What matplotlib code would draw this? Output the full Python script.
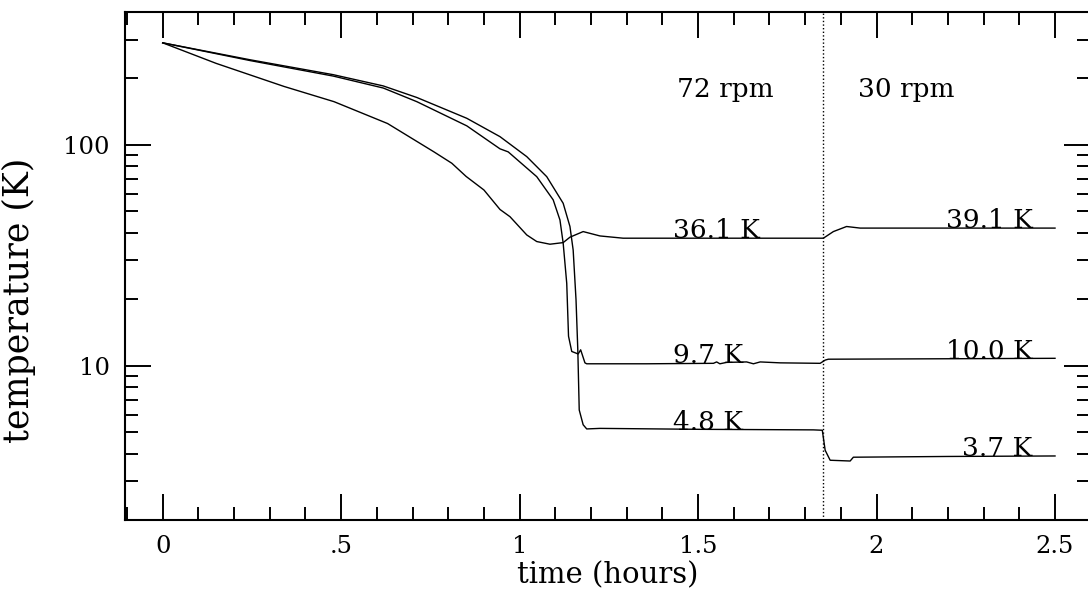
import matplotlib
matplotlib.use("Agg")
import matplotlib.pyplot as plt
from matplotlib.ticker import FixedLocator, MultipleLocator, LogLocator, NullFormatter, FixedFormatter

plt.rcParams['font.family'] = ['DejaVu Serif']

# ---- data ----
# curve ending at 36.1 K / 39.1 K
time_a = [0.0, 0.15, 0.34, 0.48, 0.63, 0.76, 0.81, 0.85, 0.90, 0.945, 0.973, 1.02,
          1.048, 1.085, 1.122, 1.141, 1.178, 1.225, 1.29, 1.45, 1.6, 1.75, 1.848,
          1.851, 1.879, 1.916, 1.954, 2.2, 2.5]
temp_a = [290, 234, 184, 157, 125, 93, 82.6, 72, 62.5, 51, 47.3, 39.1,
          36.5, 35.5, 36.1, 38.2, 40.5, 38.7, 37.8, 37.8, 37.8, 37.8, 37.8,
          37.8, 40.5, 42.7, 42.0, 42.0, 42.0]

# curve ending at 9.7 K / 10.0 K
time_b = [0.0, 0.245, 0.478, 0.618, 0.712, 0.852, 0.945, 0.968, 1.048, 1.094, 1.113,
          1.122, 1.132, 1.137, 1.146, 1.164, 1.171, 1.183, 1.188, 1.356, 1.543,
          1.552, 1.561, 1.580, 1.636, 1.655, 1.674, 1.730, 1.842, 1.856, 1.865,
          2.2, 2.5]
temp_b = [290, 241, 205, 181, 157, 122, 96, 93, 71.8, 56.4, 45.7,
          35.9, 23.6, 13.6, 11.6, 11.3, 11.8, 10.3, 10.2, 10.2, 10.25,
          10.4, 10.2, 10.35, 10.4, 10.2, 10.4, 10.3, 10.25, 10.6, 10.7,
          10.75, 10.8]

# curve ending at 4.8 K / 3.7 K
time_c = [0.0, 0.245, 0.478, 0.618, 0.712, 0.852, 0.945, 1.020, 1.076, 1.122, 1.141,
          1.150, 1.158, 1.163, 1.167, 1.178, 1.188, 1.225, 1.5, 1.823, 1.848,
          1.856, 1.870, 1.926, 1.935, 2.2, 2.5]
temp_c = [290, 243, 208, 185, 164, 132, 109, 88.5, 71.8, 54.4, 42.7,
          33.4, 19.9, 11.8, 6.3, 5.4, 5.17, 5.2, 5.15, 5.12, 5.1,
          4.14, 3.73, 3.70, 3.85, 3.88, 3.9]

speed_change_time = 1.85
x_ticks = [0, 0.5, 1, 1.5, 2, 2.5]
x_ticklabels = ['0', '.5', '1', '1.5', '2', '2.5']
y_ticks = [10, 100]
y_ticklabels = ['10', '100']

rpm_labels = ['72 rpm', '30 rpm']
rpm_x = [1.441, 1.948]
rpm_y = 165

left_labels = ['36.1 K', '9.7 K', '4.8 K']
left_label_y = [37.9, 10.3, 5.1]
right_labels = ['39.1 K', '10.0 K', '3.7 K']
right_label_y = [42.0, 10.75, 3.9]

# ---- figure ----
W, H = 1088, 592
fig = plt.figure(figsize=(W / 100, H / 100), dpi=100)
L, R, T, B = 125, 1090, 12, 520
ax = fig.add_axes([L / W, 1 - B / H, (R - L) / W, (B - T) / H])

lw = 1.0
ax.plot(time_a, temp_a, color='black', lw=lw)
ax.plot(time_b, temp_b, color='black', lw=lw)
ax.plot(time_c, temp_c, color='black', lw=lw)
ax.axvline(speed_change_time, color='black', lw=1.0, ls=(0, (1, 1.6)))

ax.set_yscale('log')
ax.set_xlim(-0.1056, 2.598)
ax.set_ylim(2, 400)

ax.xaxis.set_major_locator(FixedLocator(x_ticks))
ax.xaxis.set_major_formatter(FixedFormatter(x_ticklabels))
ax.xaxis.set_minor_locator(MultipleLocator(0.1))
ax.yaxis.set_major_locator(FixedLocator(y_ticks))
ax.yaxis.set_major_formatter(FixedFormatter(y_ticklabels))
ax.yaxis.set_minor_locator(LogLocator(base=10, subs=[2, 3, 4, 5, 6, 7, 8, 9]))
ax.yaxis.set_minor_formatter(NullFormatter())

for s in ax.spines.values():
    s.set_linewidth(1.5)
ax.tick_params(which='both', direction='in', top=True, right=True, width=1.4, colors='black')
ax.tick_params(which='major', length=19, pad=11, labelsize=17.5)
ax.tick_params(which='minor', length=9.5)

ax.set_xlabel('time (hours)', fontsize=21)
ax.xaxis.set_label_coords(0.5, -0.082)
ax.set_ylabel('temperature (K)', fontsize=25)
ax.yaxis.set_label_coords(-0.092, 0.433)

for txt, x in zip(rpm_labels, rpm_x):
    ax.text(x, rpm_y, txt, fontsize=19, ha='left', va='baseline')
for txt, y in zip(left_labels, left_label_y):
    ax.text(1.43, y, txt, fontsize=19, ha='left', va='baseline')
for txt, y in zip(right_labels, right_label_y):
    ax.text(2.437, y, txt, fontsize=19, ha='right', va='baseline')

fig.savefig('out.png', dpi=100, facecolor='white')
